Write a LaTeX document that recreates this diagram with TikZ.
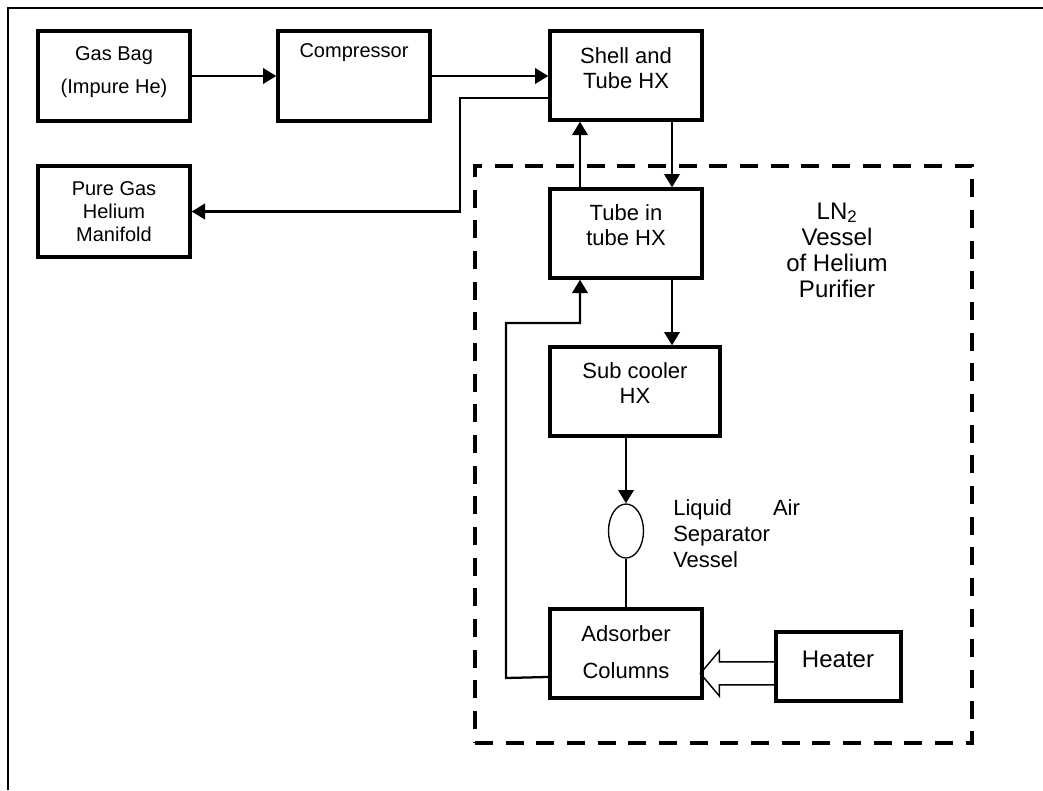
\documentclass[tikz,border=0pt]{standalone}
\usepackage{fontspec}
\setmainfont{Liberation Sans}
\usetikzlibrary{arrows.meta,shapes.geometric}

\begin{document}
\begin{tikzpicture}[x=0.75pt,y=-0.75pt,
  unit/.style={draw,line width=2.5pt,minimum width=114pt,minimum height=66.75pt,inner sep=0pt},
  lbl/.style={align=center,inner sep=0pt,font=\fontsize{16.5}{18.75}\selectfont},
  small/.style={font=\fontsize{15}{17.25}\selectfont},
  big/.style={font=\fontsize{18}{19.5}\selectfont},
  arr/.style={-{Triangle[length=10pt,width=11.5pt]},line width=2pt},
  pipe/.style={line width=1.7pt},
  vessel/.style={draw,line width=3.2pt,dash pattern=on 13.5pt off 9.5pt,
    minimum width=372.75pt,minimum height=432.75pt,inner sep=0pt},
  heat/.style={line width=1.1pt,line join=miter}]
  \useasboundingbox (0,0) rectangle (1043,790);
  \draw[line width=1.5pt] (8,790) -- (8,8) -- (1043,8);

  % LN2 vessel of the purifier
  \node[vessel] (vessel) at (723.5,454.5) {};
  \node[lbl,big] (vessellbl) at (837,250) {LN\textsubscript{2}\\Vessel\\of Helium\\Purifier};

  % units
  \node[unit,minimum height=67.5pt] (bag) at (114,76) {};
  \node[unit,minimum height=67.5pt] (comp) at (354,76) {};
  \node[unit] (shell) at (626,75.5) {};
  \node[unit,minimum height=68.25pt] (manifold) at (114,211.5) {};
  \node[unit] (tit) at (626,233.5) {};
  \node[unit,minimum width=127.5pt] (sub) at (635,391.5) {};
  \node[draw,ellipse,line width=1pt,minimum width=26.25pt,minimum height=40.5pt,inner sep=0pt] (sep) at (626,531) {};
  \node[unit] (ads) at (626,653.5) {};
  \node[unit,minimum width=93.75pt,minimum height=51.75pt] (heater) at (838.5,666.5) {};

  % unit texts
  \node[lbl,font=\fontsize{15}{24.75}\selectfont] (bagtxt) at (114,72) {Gas Bag\\(Impure He)};
  \node[lbl,small] (comptxt) at (354,53) {Compressor};
  \node[lbl,small] (manifoldtxt) at (114,212) {Pure Gas\\Helium\\Manifold};
  \node[lbl] (shelltxt) at (626,68) {Shell and\\Tube HX};
  \node[lbl] (tittxt) at (626,225) {Tube in\\tube HX};
  \node[lbl] (subtxt) at (635,383) {Sub cooler\\HX};
  \node[lbl,font=\fontsize{16.5}{27.75}\selectfont] (adstxt) at (626,652) {Adsorber\\Columns};
  \node[lbl,big] (heatertxt) at (838,659) {Heater};
  \node[lbl,align=left,text width=95pt,anchor=west,font=\fontsize{16.5}{19.5}\selectfont] (septxt)
    at (673,534) {Liquid\hfill Air\\Separator\\Vessel};

  % flow lines
  \coordinate (ret) at (460,211.5);
  \coordinate (loopfoot) at (506,678);
  \coordinate (looptop) at (506,323);
  \draw[arr] (bag) -- (comp);
  \draw[arr] (comp.east) -- (comp.east -| shell.west);
  \draw[arr] ([yshift=-16.9pt]shell.west) -| (ret) -- (manifold.east);
  \draw[arr] ([xshift=-34.5pt]tit.north) -- ([xshift=-34.5pt]shell.south);
  \draw[arr] ([xshift=34.5pt]shell.south) -- ([xshift=34.5pt]tit.north);
  \draw[arr] ([xshift=34.5pt]tit.south) -- ([xshift=34.5pt]tit.south |- sub.north);
  \draw[arr] (sub.south -| sep) -- (sep.north);
  \draw[pipe] (sep.south) -- (ads.north);
  \draw[arr,line width=1.7pt] ([yshift=-17.6pt]ads.west) -- (loopfoot) -- (looptop)
    -| ([xshift=-34.5pt]tit.south);
  \draw[heat] ([yshift=3.4pt]heater.west) -- ++(-55,0) -- ++(0,-11) -- ++(-19,22.5)
    -- ++(19,22.5) -- ++(0,-11) -- ++(55,0);
\end{tikzpicture}
\end{document}
